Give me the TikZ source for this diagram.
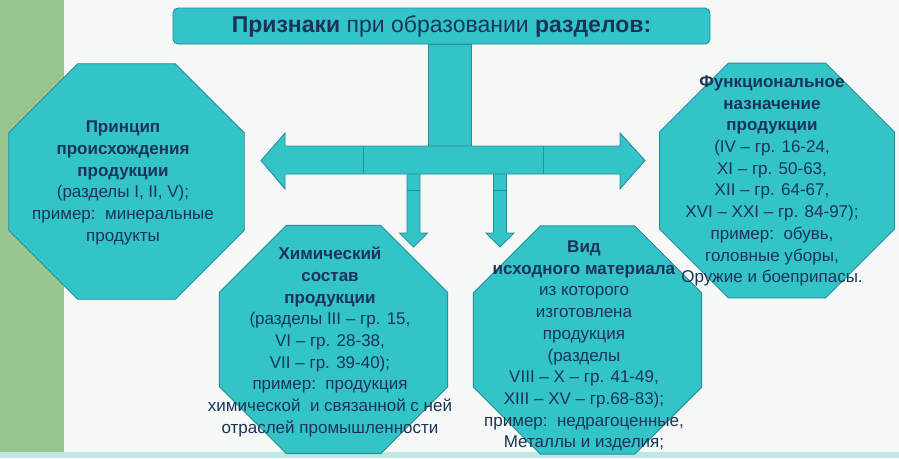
\documentclass[tikz,border=0pt]{standalone}
\usepackage{fontspec}
\setmainfont{Liberation Sans}
\usetikzlibrary{shapes.geometric}

\definecolor{tealfill}{HTML}{33C4C7}
\definecolor{tealline}{HTML}{2A8E9B}
\definecolor{navy}{HTML}{1A3457}
\definecolor{paper}{HTML}{F6F7F7}
\definecolor{leaf}{HTML}{99C590}
\definecolor{foam}{HTML}{BFE7E4}

\tikzset{
  blk/.style={fill=tealfill, draw=tealline, line width=0.9pt},
  octo/.style={blk, regular polygon, regular polygon sides=8, inner sep=0pt},
  txt/.style={text=navy, align=center, font=\fontsize{17}{21.7}\selectfont},
}

\begin{document}
\begin{tikzpicture}[x=1pt,y=-1pt]
% background and side strips
\fill[paper] (0,0) rectangle (899,458);
\fill[leaf] (0,0) rectangle (64,452);
\fill[foam] (0,452) rectangle (899,458);
\useasboundingbox (0,0) rectangle (899,458);

% octagons
\node[octo, minimum size=255] (origin) at (126.5,181.5) {};
\node[octo, minimum size=247] (chem) at (333.5,339.5) {};
\node[octo, minimum size=247] (material) at (587.5,340) {};
\node[octo, minimum size=254] (purpose) at (777,180.5) {};

% down arrows, then stem, then the double arrow on top
\foreach \cx in {413.5,500} {
  \draw[blk] (\cx-6.5,174) -- (\cx-6.5,233) -- (\cx-14,233) -- (\cx,247)
    -- (\cx+14,233) -- (\cx+6.5,233) -- (\cx+6.5,174);
  \draw[tealline, line width=0.9pt] (\cx-6.5,190) -- (\cx+6.5,190);
}
\node[blk, inner sep=0pt, minimum width=43, minimum height=102, anchor=north] (stem) at (449.5,44) {};
\coordinate (tipL) at (261,160.5);
\coordinate (tipR) at (645,160.5);
\draw[blk] (tipL) -- (285,133) -- (285,146) -- (620,146) -- (620,133) -- (tipR)
  -- (620,189) -- (620,174) -- (285,174) -- (285,189) -- cycle;
\draw[tealline, line width=0.9pt] (363,146) -- (363,174) (543,146) -- (543,174);

% title
\node[blk, rounded corners=5pt, minimum width=537, minimum height=36, text=navy,
  font=\fontsize{23}{26}\selectfont] (title) at (441.5,26)
  {\textbf{Признаки} при образовании \textbf{разделов:}};

% texts
\node[txt] (originT) at (123,183) {\textbf{Принцип}\\ \textbf{происхождения}\\ \textbf{продукции}\\
  (разделы I, II, V);\\ пример:\ \ минеральные\\ продукты};
\node[txt] (chemT) at (330,342) {\textbf{Химический}\\ \textbf{состав}\\ \textbf{продукции}\\
  (разделы III – гр. 15,\\ VI – гр. 28-38,\\ VII – гр. 39-40);\\ пример:\ \ продукция\\
  химической\ \ и связанной с ней\\ отраслей промышленности};
\node[txt] (materialT) at (584,346) {\textbf{Вид}\\ \textbf{исходного материала}\\ из которого\\
  изготовлена\\ продукция\\ (разделы\\ VIII – X – гр. 41-49,\\ XIII – XV – гр.68-83);\\
  пример:\ \ недрагоценные,\\ Металлы и изделия;};
\node[txt] (purposeT) at (772,181) {\textbf{Функциональное}\\ \textbf{назначение}\\ \textbf{продукции}\\
  (IV – гр. 16-24,\\ XI – гр. 50-63,\\ XII – гр. 64-67,\\ XVI – XXI – гр. 84-97);\\
  пример:\ \ обувь,\\ головные уборы,\\ Оружие и боеприпасы.};
\end{tikzpicture}
\end{document}
